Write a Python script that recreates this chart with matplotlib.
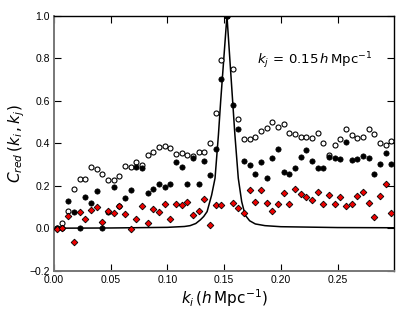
import numpy as np
import matplotlib
matplotlib.use('Agg')
import matplotlib.pyplot as plt

# k_i bins (h/Mpc)
k_i = [0.0025, 0.0075, 0.0125, 0.0175, 0.0225, 0.0275, 0.0325, 0.0375, 0.0425, 0.0475,
       0.0525, 0.0575, 0.0625, 0.0675, 0.0725, 0.0775, 0.0825, 0.0875, 0.0925, 0.0975,
       0.1025, 0.1075, 0.1125, 0.1175, 0.1225, 0.1275, 0.1325, 0.1375, 0.1425, 0.1475,
       0.1525, 0.1575, 0.1625, 0.1675, 0.1725, 0.1775, 0.1825, 0.1875, 0.1925, 0.1975,
       0.2025, 0.2075, 0.2125, 0.2175, 0.2225, 0.2275, 0.2325, 0.2375, 0.2425, 0.2475,
       0.2525, 0.2575, 0.2625, 0.2675, 0.2725, 0.2775, 0.2825, 0.2875, 0.2925, 0.2975]

# open circles
c_open = [0.0, 0.023, 0.083, 0.183, 0.230, 0.230, 0.286, 0.277, 0.254, 0.225,
          0.228, 0.244, 0.291, 0.286, 0.311, 0.299, 0.343, 0.357, 0.380, 0.388,
          0.376, 0.350, 0.355, 0.344, 0.342, 0.360, 0.357, 0.399, 0.540, 0.790,
          1.0, 0.749, 0.515, 0.418, 0.421, 0.427, 0.458, 0.472, 0.500, 0.476,
          0.488, 0.447, 0.444, 0.430, 0.427, 0.423, 0.446, 0.399, 0.345, 0.390,
          0.419, 0.466, 0.438, 0.423, 0.429, 0.468, 0.441, 0.400, 0.390, 0.411]

# filled circles
c_filled = [0.0, 0.0, 0.130, 0.075, 0.0, 0.148, 0.117, 0.177, 0.0, 0.078,
            0.195, 0.103, 0.141, 0.181, 0.290, 0.285, 0.164, 0.185, 0.208, 0.194,
            0.207, 0.310, 0.286, 0.207, 0.332, 0.207, 0.318, 0.252, 0.374, 0.704,
            1.0, 0.582, 0.468, 0.316, 0.296, 0.254, 0.310, 0.235, 0.330, 0.372,
            0.266, 0.254, 0.283, 0.336, 0.366, 0.316, 0.285, 0.285, 0.333, 0.332,
            0.325, 0.404, 0.321, 0.324, 0.339, 0.330, 0.254, 0.300, 0.352, 0.302]

# red diamonds
c_red = [-0.005, 0.0, 0.056, -0.063, 0.077, 0.044, 0.084, 0.098, 0.031, 0.079,
         0.073, 0.106, 0.066, -0.003, 0.045, 0.105, 0.023, 0.091, 0.078, 0.113,
         0.044, 0.115, 0.108, 0.125, 0.064, 0.082, 0.138, 0.016, 0.109, 0.109,
         np.nan, 0.117, 0.097, 0.073, 0.180, 0.125, 0.182, 0.117, 0.083, 0.113,
         0.166, 0.113, 0.185, 0.160, 0.146, 0.134, 0.170, 0.113, 0.156, 0.113,
         0.147, 0.106, 0.115, 0.153, 0.169, 0.119, 0.055, 0.153, 0.206, 0.070]

# theory curve
curve_k = [0.0, 0.05, 0.10, 0.115, 0.12, 0.125, 0.129, 0.132, 0.135, 0.139, 0.142,
           0.145, 0.147, 0.1525, 0.1575, 0.1595, 0.1625, 0.1655, 0.1685, 0.1725,
           0.1775, 0.186, 0.20, 0.25, 0.30]
curve_c = [0.0, 0.001, 0.004, 0.008, 0.012, 0.022, 0.039, 0.055, 0.078, 0.156, 0.235,
           0.44, 0.60, 1.0, 0.60, 0.44, 0.235, 0.125, 0.062, 0.035,
           0.020, 0.012, 0.007, 0.003, 0.002]

xticks = [0.0, 0.05, 0.10, 0.15, 0.20, 0.25]
yticks = [-0.2, 0.0, 0.2, 0.4, 0.6, 0.8, 1.0]

fig = plt.figure(figsize=(4.15, 3.12), dpi=100)
ax = fig.add_axes([0.1301, 0.1324, 0.8193, 0.8173])

ax.plot(curve_k, curve_c, color='black', lw=1.1, zorder=2)
ax.plot(k_i, c_open, 'o', ms=3.6, mfc='white', mec='black', mew=0.8, zorder=3)
ax.plot(k_i, c_filled, 'o', ms=3.8, mfc='black', mec='black', mew=0.5, zorder=4)
ax.plot(k_i, c_red, 'D', ms=3.4, mfc='#ee0000', mec='black', mew=0.6, zorder=5)

ax.set_xlim(0, 0.2998)
ax.set_ylim(-0.2, 1.0)
ax.set_xticks(xticks)
ax.set_yticks(yticks)
ax.set_xticklabels(['%.2f' % v for v in xticks], family='Liberation Sans', fontsize=7.5)
ax.set_yticklabels(['%.1f' % v if v >= 0 else '\u2212%.1f' % -v for v in yticks],
                   family='Liberation Sans', fontsize=7.5)
ax.tick_params(direction='in', length=5, width=0.8, top=True, right=True, pad=3)

for s in ['left', 'bottom']:
    ax.spines[s].set_color('#777777')
    ax.spines[s].set_linewidth(1.4)
for s in ['top', 'right']:
    ax.spines[s].set_color('black')
    ax.spines[s].set_linewidth(1.0)

ax.set_xlabel(r'$k_i\,(h\,\mathrm{Mpc}^{-1})$', fontsize=11, labelpad=2)
ax.set_ylabel(r'$C_{red}\,(k_i\,,k_j)$', fontsize=11)
ax.yaxis.set_label_coords(-0.08, 0.5)

ax.text(0.179, 0.79, r'$k_j\,=\,0.15\,h\,\mathrm{Mpc}^{-1}$', fontsize=9.5, va='center')

fig.savefig('out.png', dpi=100)
